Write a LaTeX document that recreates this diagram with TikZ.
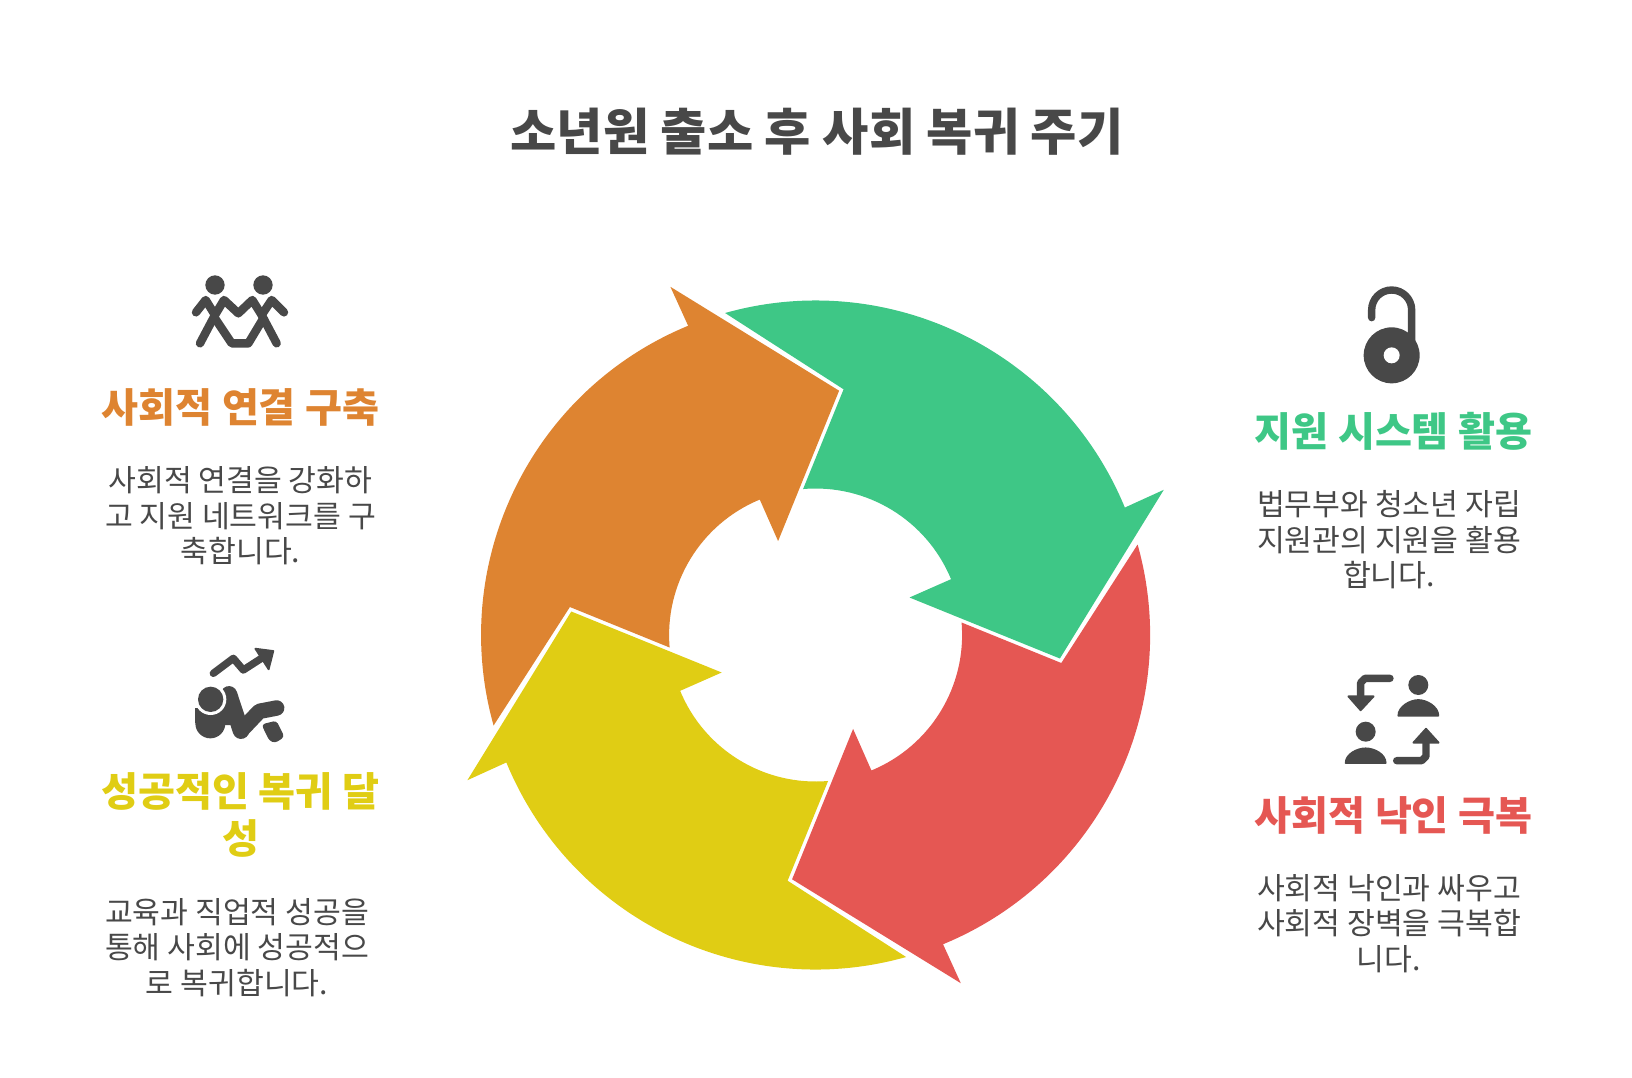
\documentclass[tikz,border=0pt]{standalone}
\usepackage{fontspec}
\setmainfont{Noto Sans CJK KR}
\usepackage{tikz}

\definecolor{cyclegreen}{HTML}{3EC786}
\definecolor{cycleorange}{HTML}{DE8431}
\definecolor{cycleyellow}{HTML}{E0CD14}
\definecolor{cyclered}{HTML}{E55753}
\definecolor{icongray}{HTML}{484848}

\tikzset{
    titletext/.style={inner sep=0pt, text=icongray, font=\fontsize{14.3}{17}\selectfont\bfseries},
    headtext/.style={inner sep=0pt, align=center, font=\fontsize{11.43}{13.3}\selectfont\bfseries},
    bodytext/.style={inner sep=0pt, align=center, text=icongray, font=\fontsize{8.6}{10.1}\selectfont},
    iconfill/.style={fill=icongray, draw=icongray, line width=0.5pt, line join=round},
    iconline/.style={draw=icongray, line cap=round, line join=round}
}

\begin{document}
\begin{tikzpicture}[x=0.01cm, y=0.01cm]

    \useasboundingbox (0,0) rectangle (1632,-1078);

    % Title
    \node[titletext] (title) at (817,-132) {소년원 출소 후 사회 복귀 주기};

    % Four arrows of the cycle, one shape turned by quarter turns
    \foreach \col/\ang in {cyclegreen/0, cycleorange/90, cycleyellow/180, cyclered/270} {
        \begin{scope}[shift={(815.6,-635)}, rotate=\ang]
            \fill[\col] (105.7:334.5) arc[start angle=105.7, end angle=22.4, radius=334.5]
                -- (348.2,145.2) -- (244.3,-23.5) -- (93.9,37.5) -- (22.4:146.5)
                arc[start angle=22.4, end angle=94.9, radius=146.5] -- (28,245.7) -- cycle;
        \end{scope}
    }

    % Labels on the left
    \node[headtext, text=cycleorange] (connecthead) at (240.5,-407.5) {사회적 연결 구축};
    \node[bodytext] (connecttext) at (240.5,-516) {사회적 연결을 강화하\\고 지원 네트워크를 구\\축합니다.};
    \node[headtext, text=cycleyellow] (returnhead) at (240.5,-815) {성공적인 복귀 달\\성};
    \node[bodytext] (returntext) at (237,-947.5) {교육과 직업적 성공을\\통해 사회에 성공적으\\로 복귀합니다.};

    % Labels on the right
    \node[headtext, text=cyclegreen] (supporthead) at (1393.5,-431.6) {지원 시스템 활용};
    \node[bodytext] (supporttext) at (1389,-540) {법무부와 청소년 자립\\지원관의 지원을 활용\\합니다.};
    \node[headtext, text=cyclered] (stigmahead) at (1393.5,-815) {사회적 낙인 극복};
    \node[bodytext] (stigmatext) at (1389,-923.5) {사회적 낙인과 싸우고\\사회적 장벽을 극복합\\니다.};

    % Icon: two people holding hands
    \begin{scope}[shift={(170,-260)}, xscale=1/3, yscale=-1/3]
        \fill[icongray] (135,75) circle(29);
        \fill[icongray] (279,75) circle(29);
        \draw[iconline, line width=2.4pt] (78,157) -- (107,120) -- (135,165) -- (90,250);
        \draw[iconline, line width=2.4pt] (135,165) -- (162,120) -- (205,160) -- (247,120) -- (275,165) -- (320,250);
        \draw[iconline, line width=2.4pt] (135,175) -- (185,250) -- (235,250) -- (280,175);
        \draw[iconline, line width=2.4pt] (275,165) -- (305,120) -- (342,157);
    \end{scope}

    % Icon: person rising with a trend arrow
    \begin{scope}[shift={(170,-640)}, xscale=1/3, yscale=-1/3]
        \draw[iconline, line width=2.1pt] (130,100) -- (190,55) -- (220,90) -- (285,48);
        \fill[iconfill] (256,26) -- (310,33) -- (296,88) -- cycle;
        % body made of a hip, a torso and a bent leg
        \fill[icongray] (121,250) circle(45);
        \fill[icongray] (76,205) rectangle (121,250);
        \fill[icongray] (121,205) -- (180,160) -- (215,255) -- (160,255) -- cycle;
        \draw[iconline, line width=4.7pt] (177,163) -- (213,272);
        \draw[iconline, line width=4.4pt] (213,272) -- (268,214) -- (320,204);
        \fill[white] (122,178) circle(47);
        \fill[icongray] (122,178) circle(38);
        \fill[iconfill, rounded corners=0.8pt] (278,255) -- (318,245) -- (340,290) -- (315,306) -- (300,300) -- cycle;
    \end{scope}

    % Icon: open padlock
    \begin{scope}[shift={(1330,-280)}, xscale=1/3, yscale=-1/3]
        \draw[iconline, line width=2.1pt] (125,113) -- (125,90) arc[start angle=180, end angle=360, radius=60] -- (245,190);
        \fill[icongray] (185,226) circle(84);
        \fill[white] (185,226) circle(24);
    \end{scope}

    % Icon: two people and two turning arrows
    \begin{scope}[shift={(1330,-665)}, xscale=1/3, yscale=-1/3]
        \fill[icongray] (265,60) circle(30);
        \fill[iconfill] (205,152) .. controls (205,125) and (240,105) .. (265,105)
            .. controls (290,105) and (325,125) .. (325,152) -- cycle;
        \fill[icongray] (107,200) circle(30);
        \fill[iconfill] (47,294) .. controls (47,267) and (82,250) .. (107,250)
            .. controls (132,250) and (167,267) .. (167,294) -- cycle;
        \draw[iconline, line width=2.1pt] (180,40) -- (105,40) -- (92,53) -- (92,100);
        \fill[iconfill] (55,94) -- (131,94) -- (92,136) -- cycle;
        \draw[iconline, line width=2.1pt] (200,287) -- (275,287) -- (288,274) -- (288,225);
        \fill[iconfill] (250,233) -- (326,233) -- (288,191) -- cycle;
    \end{scope}

\end{tikzpicture}
\end{document}
